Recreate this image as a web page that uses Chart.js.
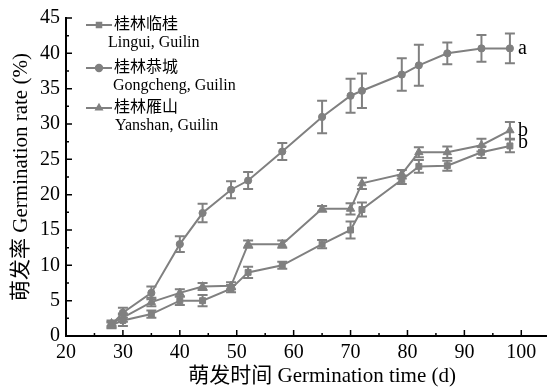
<!DOCTYPE html>
<html>
<head>
<meta charset="utf-8">
<script src="https://cdn.jsdelivr.net/npm/chart.js@4/dist/chart.umd.min.js"></script>
<style>
  html, body { margin: 0; padding: 0; background: #fff; overflow: hidden; }
  #wrap { width: 584px; height: 390px; }
</style>
</head>
<body>
<div id="wrap"><canvas id="germChart" width="584" height="390"></canvas></div>
<script>
// données
const days = [28, 30, 35, 40, 44, 49, 52, 58, 65, 70, 72, 79, 82, 87, 93, 98];

const linguiRate = [1.5, 2.2, 3.1, 5.0, 5.0, 6.7, 9.0, 10.0, 13.0, 15.0, 17.9, 22.1, 24.0, 24.1, 26.0, 26.9];
const linguiErr  = [0.4, 0.8, 0.5, 0.6, 0.8, 0.5, 0.8, 0.5, 0.6, 1.2, 1.0, 0.6, 0.9, 0.7, 0.8, 0.9];

const gongchengRate = [1.6, 3.3, 6.1, 13.0, 17.4, 20.7, 22.0, 26.1, 31.0, 34.0, 34.7, 37.0, 38.3, 40.0, 40.7, 40.7];
const gongchengErr  = [0.4, 0.7, 0.9, 1.1, 1.3, 1.2, 1.2, 1.2, 2.3, 2.4, 2.45, 2.3, 2.9, 1.55, 1.9, 2.1];

const yanshanRate = [1.8, 2.6, 4.8, 6.1, 7.0, 7.1, 13.0, 13.0, 18.0, 18.0, 21.6, 22.9, 26.0, 26.0, 27.0, 29.1];
const yanshanErr  = [0.4, 0.6, 0.6, 0.5, 0.5, 0.5, 0.5, 0.5, 0.4, 0.8, 0.8, 0.6, 0.7, 0.8, 0.9, 1.2];

const seriesNames = [['桂林临桂', 'Lingui, Guilin'], ['桂林恭城', 'Gongcheng, Guilin'], ['桂林雁山', 'Yanshan, Guilin']];
const sigLetters = ['b', 'a', 'b'];

const xTicks = [20, 30, 40, 50, 60, 70, 80, 90, 100];
const yTicks = [0, 5, 10, 15, 20, 25, 30, 35, 40, 45];

const GREY = '#808080';
const SERIF = '"Liberation Serif", "Noto Sans CJK SC", serif';

function toPoints(rates) {
    return days.map((d, i) => ({ x: d, y: rates[i] }));
}

// barres d'erreur + petites graduations intérieures + lettres + légende
const extrasPlugin = {
    id: 'extras',
    afterDatasetsDraw(chart) {
        const ctx = chart.ctx;
        const yScale = chart.scales.y;
        const errs = [linguiErr, gongchengErr, yanshanErr];
        ctx.save();
        ctx.strokeStyle = GREY;
        ctx.lineWidth = 2;
        errs.forEach((err, i) => {
            const meta = chart.getDatasetMeta(i);
            meta.data.forEach((pt, j) => {
                const v = chart.data.datasets[i].data[j].y;
                const yTop = yScale.getPixelForValue(v + err[j]);
                const yBot = yScale.getPixelForValue(v - err[j]);
                ctx.beginPath();
                ctx.moveTo(pt.x, yTop); ctx.lineTo(pt.x, yBot);
                ctx.moveTo(pt.x - 5, yTop); ctx.lineTo(pt.x + 5, yTop);
                ctx.moveTo(pt.x - 5, yBot); ctx.lineTo(pt.x + 5, yBot);
                ctx.stroke();
            });
        });
        ctx.restore();
    },
    afterDraw(chart) {
        const ctx = chart.ctx;
        const xs = chart.scales.x, ys = chart.scales.y;
        const area = chart.chartArea;
        ctx.save();
        // graduations (vers l'intérieur)
        ctx.strokeStyle = '#000';
        ctx.lineWidth = 1.5;
        ctx.beginPath();
        for (let v = 20; v <= 110; v += 5) {
            const px = xs.getPixelForValue(v);
            const len = v % 10 === 0 ? 6 : 3;
            ctx.moveTo(px, area.bottom); ctx.lineTo(px, area.bottom - len);
        }
        for (let v = 0; v <= 45; v += 2.5) {
            const py = ys.getPixelForValue(v);
            const len = v % 5 === 0 ? 6 : 3;
            ctx.moveTo(area.left, py); ctx.lineTo(area.left + len, py);
        }
        ctx.stroke();

        // lettres de significativité
        ctx.fillStyle = '#000';
        ctx.font = '20px ' + SERIF;
        ctx.textBaseline = 'middle';
        ctx.textAlign = 'left';
        const offsets = [-3, 0, 0];
        chart.data.datasets.forEach((ds, i) => {
            const last = ds.data[ds.data.length - 1];
            ctx.fillText(sigLetters[i], xs.getPixelForValue(last.x) + 8, ys.getPixelForValue(last.y) + offsets[i]);
        });

        // légende
        const rows = [25, 68, 108];
        const subX = [108, 113, 115];
        chart.data.datasets.forEach((ds, i) => {
            const y = rows[i];
            ctx.strokeStyle = GREY;
            ctx.lineWidth = 2;
            ctx.beginPath();
            ctx.moveTo(86, y); ctx.lineTo(112, y);
            ctx.stroke();
            ctx.fillStyle = GREY;
            Chart.helpers.drawPoint(ctx, {
                pointStyle: ds.pointStyle, radius: 3.2, borderWidth: 1, rotation: 0
            }, 99, y);
            ctx.fillStyle = '#000';
            ctx.font = '16px ' + SERIF;
            ctx.fillText(seriesNames[i][0], 114, y);
            ctx.fillText(seriesNames[i][1], subX[i], y + 18);
        });
        ctx.restore();
    }
};

const canvas = document.getElementById('germChart');
new Chart(canvas.getContext('2d'), {
    type: 'line',
    data: {
        datasets: [
            { label: seriesNames[0].join(' '), data: toPoints(linguiRate), pointStyle: 'rect', pointRadius: 4.2 },
            { label: seriesNames[1].join(' '), data: toPoints(gongchengRate), pointStyle: 'circle', pointRadius: 3.6 },
            { label: seriesNames[2].join(' '), data: toPoints(yanshanRate), pointStyle: 'triangle', pointRadius: 4.8 }
        ].map(ds => Object.assign(ds, {
            borderColor: GREY,
            backgroundColor: GREY,
            pointBackgroundColor: GREY,
            pointBorderColor: GREY,
            pointBorderWidth: 1,
            borderWidth: 2,
            tension: 0,
            fill: false
        }))
    },
    options: {
        responsive: false,
        animation: false,
        layout: { padding: { top: 15, right: 0, left: 0, bottom: 0 } },
        plugins: { legend: { display: false }, tooltip: { enabled: false } },
        scales: {
            x: {
                type: 'linear',
                min: 20,
                max: 110,
                afterBuildTicks: axis => { axis.ticks = xTicks.map(v => ({ value: v })); },
                afterFit: axis => { axis.height = 54; },
                grid: { display: false, drawTicks: false },
                border: { display: true, color: '#000', width: 2 },
                ticks: { color: '#000', padding: 5, maxRotation: 0, font: { family: SERIF, size: 20 } },
                title: {
                    display: true,
                    text: '萌发时间 Germination time (d)',
                    color: '#000',
                    padding: { top: 0, bottom: 1 },
                    font: { family: SERIF, size: 21 }
                }
            },
            y: {
                min: 0,
                max: 45,
                afterBuildTicks: axis => { axis.ticks = yTicks.map(v => ({ value: v })); },
                afterFit: axis => { axis.width = 66; },
                grid: { display: false, drawTicks: false },
                border: { display: true, color: '#000', width: 2 },
                ticks: { color: '#000', padding: 6, font: { family: SERIF, size: 20 } },
                title: {
                    display: true,
                    text: '萌发率 Germination rate (%)',
                    color: '#000',
                    padding: { top: 9, bottom: 0 },
                    font: { family: SERIF, size: 21 }
                }
            }
        }
    },
    plugins: [extrasPlugin]
});
</script>
</body>
</html>
